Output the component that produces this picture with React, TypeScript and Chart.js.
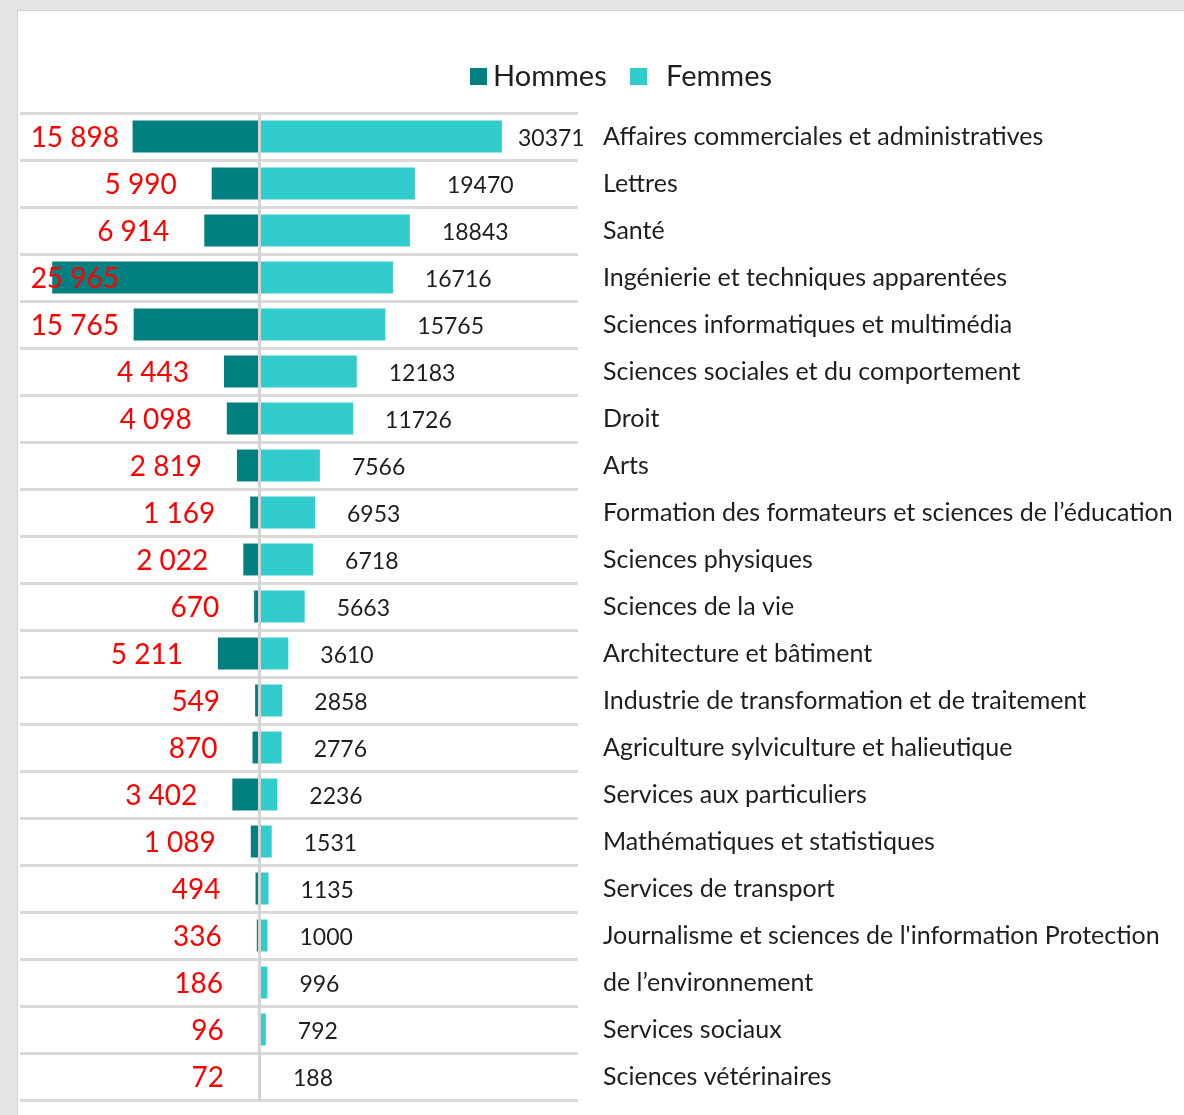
import React, { useEffect, useRef } from 'react';
import { Chart, registerables } from 'chart.js';

Chart.register(...registerables);

const categories: string[] = [
  'Affaires commerciales et administratives',
  'Lettres',
  'Santé',
  'Ingénierie et techniques apparentées',
  'Sciences informatiques et multimédia',
  'Sciences sociales et du comportement',
  'Droit',
  'Arts',
  'Formation des formateurs et sciences de l’éducation',
  'Sciences physiques',
  'Sciences de la vie',
  'Architecture et bâtiment',
  'Industrie de transformation et de traitement',
  'Agriculture sylviculture et halieutique',
  'Services aux particuliers',
  'Mathématiques et statistiques',
  'Services de transport',
  "Journalisme et sciences de l'information Protection",
  'de l’environnement',
  'Services sociaux',
  'Sciences vétérinaires',
];

const hommes: number[] = [
  15898, 5990, 6914, 25965, 15765, 4443, 4098, 2819, 1169, 2022, 670,
  5211, 549, 870, 3402, 1089, 494, 336, 186, 96, 72,
];

const femmes: number[] = [
  30371, 19470, 18843, 16716, 15765, 12183, 11726, 7566, 6953, 6718, 5663,
  3610, 2858, 2776, 2236, 1531, 1135, 1000, 996, 792, 188,
];

const seriesNames: string[] = ['Hommes', 'Femmes'];
const seriesColors: string[] = ['#008080', '#33CCCC'];

const FONT = 'Lato';
const TEXT_DARK = '#1e1e1e';

const fmtSpace = (v: number) => String(v).replace(/\B(?=(\d{3})+(?!\d))/g, ' ');

const overlayPlugin = {
  id: 'overlayPlugin',
  afterDatasetsDraw(chart: any) {
    const { ctx, chartArea, scales } = chart;
    const x0 = scales.x.getPixelForValue(0);
    ctx.save();
    // central axis line
    ctx.strokeStyle = '#d4d4d4';
    ctx.lineWidth = 3;
    ctx.beginPath();
    ctx.moveTo(x0, chartArea.top);
    ctx.lineTo(x0, chartArea.bottom);
    ctx.stroke();

    ctx.textBaseline = 'middle';
    const mH = chart.getDatasetMeta(0);
    const mF = chart.getDatasetMeta(1);
    ctx.font = `28px ${FONT}`;
    ctx.fillStyle = '#ff0000';
    ctx.textAlign = 'right';
    mH.data.forEach((bar: any, i: number) => {
      const x = Math.max(bar.x - 35, chartArea.left + 99);
      ctx.fillText(fmtSpace(hommes[i]), x, bar.y + 1);
    });
    ctx.font = `23px ${FONT}`;
    ctx.fillStyle = TEXT_DARK;
    ctx.textAlign = 'left';
    mF.data.forEach((bar: any, i: number) => {
      const x = Math.min(bar.x + 32, chartArea.left + 498);
      ctx.fillText(String(femmes[i]), x, bar.y + 2);
    });
    ctx.restore();
  },
};

const legendPlugin = {
  id: 'customLegend',
  afterDraw(chart: any) {
    const { ctx } = chart;
    ctx.save();
    ctx.font = `29px ${FONT}`;
    ctx.textBaseline = 'middle';
    ctx.textAlign = 'left';
    // Hommes
    ctx.fillStyle = seriesColors[0];
    ctx.fillRect(452, 57, 17, 17);
    ctx.fillStyle = TEXT_DARK;
    ctx.fillText(seriesNames[0], 475, 66);
    // Femmes
    ctx.fillStyle = seriesColors[1];
    ctx.fillRect(612, 57, 17, 17);
    ctx.fillStyle = TEXT_DARK;
    ctx.fillText(seriesNames[1], 648, 66);
    ctx.restore();
  },
};

export default function App() {
  const canvasRef = useRef<HTMLCanvasElement | null>(null);

  useEffect(() => {
    const canvas = canvasRef.current;
    if (!canvas) return;
    const chart = new Chart(canvas, {
      type: 'bar',
      data: {
        labels: categories,
        datasets: [
          {
            label: seriesNames[0],
            data: hommes.map((v) => -v),
            backgroundColor: seriesColors[0],
            barPercentage: 0.68,
            categoryPercentage: 1,
          },
          {
            label: seriesNames[1],
            data: femmes,
            backgroundColor: seriesColors[1],
            barPercentage: 0.68,
            categoryPercentage: 1,
          },
        ],
      },
      options: {
        indexAxis: 'y',
        responsive: false,
        animation: false,
        events: [],
        layout: { padding: { left: 2, top: 102, bottom: 15, right: 0 } },
        plugins: {
          legend: { display: false },
          tooltip: { enabled: false },
        },
        scales: {
          x: {
            display: false,
            stacked: true,
            min: -30000,
            max: 39900,
          },
          y: {
            stacked: true,
            position: 'right',
            border: { display: false },
            grid: {
              color: '#dadada',
              lineWidth: 3,
              drawTicks: true,
              tickLength: 25,
              tickColor: 'rgba(0,0,0,0)',
              offset: true,
            },
            ticks: {
              color: TEXT_DARK,
              font: { family: FONT, size: 25 },
              padding: 0,
              autoSkip: false,
            },
            afterFit: (scale: any) => {
              scale.width = 606;
            },
          },
        },
      },
      plugins: [overlayPlugin, legendPlugin],
    });
    return () => chart.destroy();
  }, []);

  return (
    <div
      style={{
        position: 'absolute',
        left: 0,
        top: 0,
        width: 1184,
        height: 1115,
        background: '#e4e4e4',
        overflow: 'hidden',
      }}
    >
      <div
        style={{
          position: 'absolute',
          left: 17,
          top: 10,
          right: 0,
          bottom: 0,
          background: '#ffffff',
          borderLeft: '1px solid #d2d2d2',
          borderTop: '1px solid #d2d2d2',
        }}
      >
        <canvas
          ref={canvasRef}
          width={1166}
          height={1104}
          style={{ display: 'block', width: 1166, height: 1104 }}
        />
      </div>
    </div>
  );
}
